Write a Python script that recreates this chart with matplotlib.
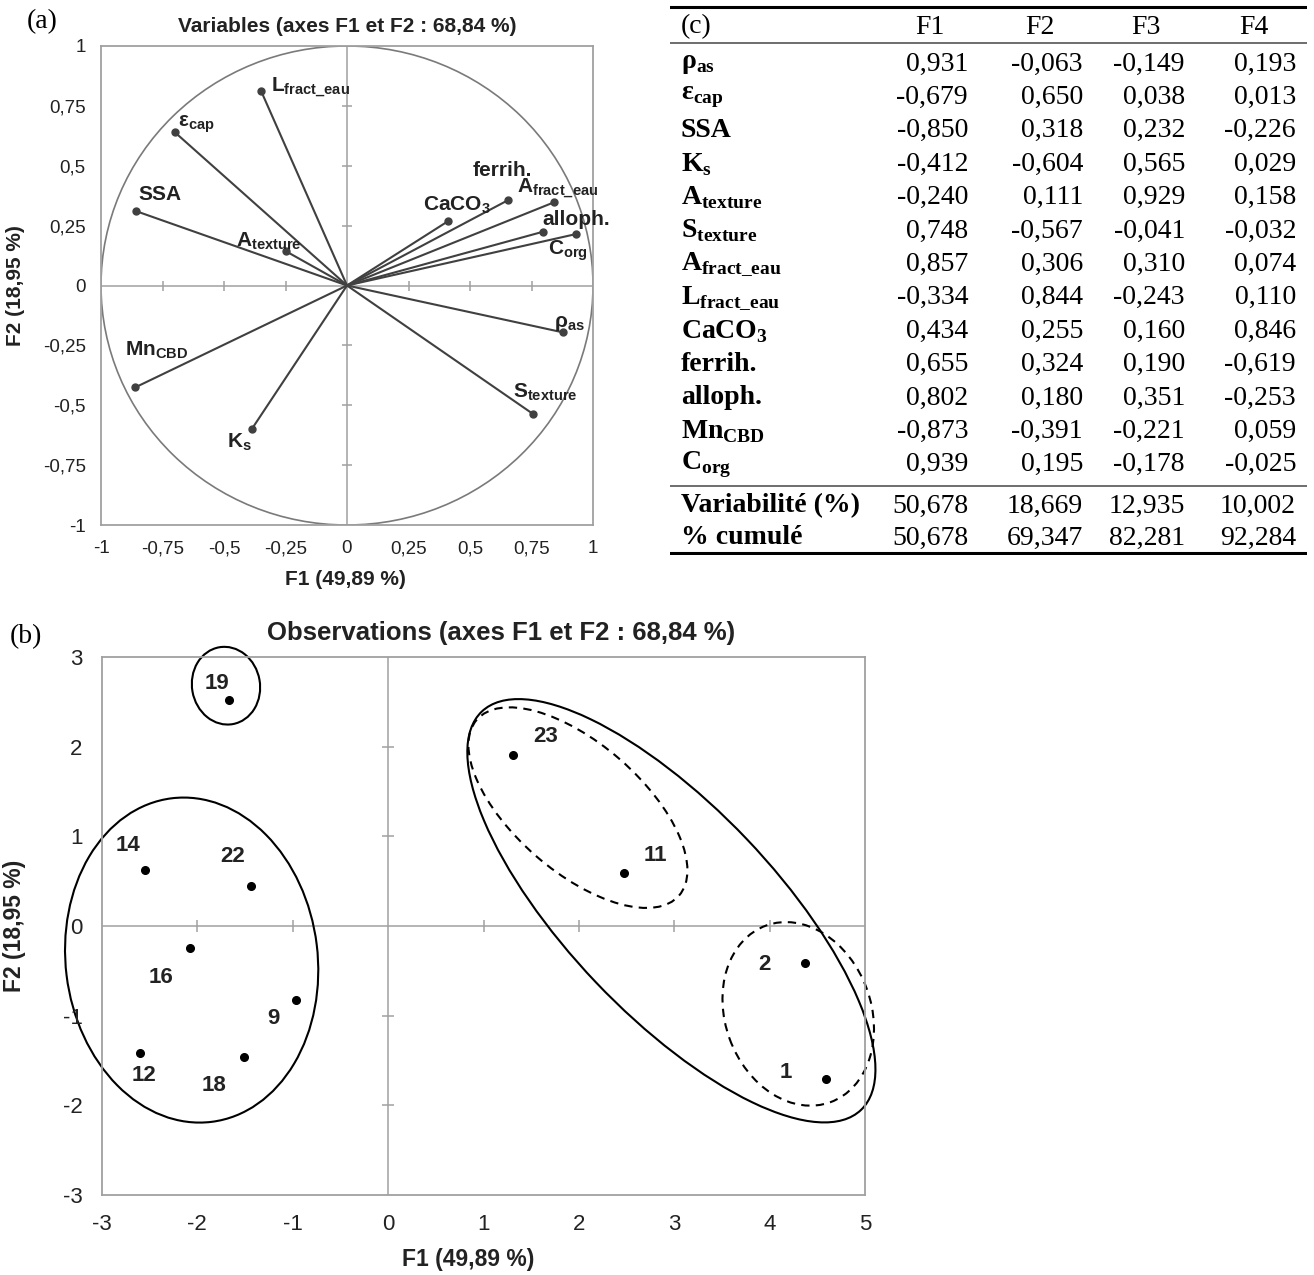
import numpy as np
import matplotlib
matplotlib.use("Agg")
import matplotlib.pyplot as plt
from matplotlib.patches import Circle, Ellipse
from matplotlib.transforms import ScaledTranslation
from matplotlib.ticker import FuncFormatter

plt.rcParams['axes.unicode_minus'] = False
SANS = 'Liberation Sans'
SERIF = 'Liberation Serif'

# ---- (a) correlation circle: variable coordinates on F1 / F2
var_labels = [r'ρ$_{\mathregular{as}}$', r'ε$_{\mathregular{cap}}$', 'SSA', r'K$_{\mathregular{s}}$',
              r'A$_{\mathregular{texture}}$', r'S$_{\mathregular{texture}}$',
              r'A$_{\mathregular{fract\_eau}}$', r'L$_{\mathregular{fract\_eau}}$',
              r'CaCO$_{\mathregular{3}}$', 'ferrih.', 'alloph.', r'Mn$_{\mathregular{CBD}}$',
              r'C$_{\mathregular{org}}$']
var_f1 = [0.879, -0.700, -0.856, -0.388, -0.250, 0.757, 0.843, -0.350, 0.410, 0.656, 0.795, -0.860, 0.932]
var_f2 = [-0.196, 0.640, 0.310, -0.601, 0.144, -0.537, 0.348, 0.814, 0.268, 0.357, 0.224, -0.425, 0.215]
# label offsets in pixels (left edge, vertical centre) relative to the point
var_lab_off = [(-9, 9), (3, 8), (2, 17), (-25, -13), (-49, 10), (-20, 22), (-37, 13),
               (10, 3), (-25, 16), (-36, 29), (0, 12), (-10, 37), (-28, -17)]
circle_ticks = [-1, -0.75, -0.5, -0.25, 0, 0.25, 0.5, 0.75, 1]

# ---- (b) observations on F1 / F2
obs_ids = ['19', '23', '11', '14', '22', '16', '9', '12', '18', '2', '1']
obs_f1 = [-1.67, 1.31, 2.47, -2.55, -1.44, -2.08, -0.97, -2.60, -1.51, 4.37, 4.59]
obs_f2 = [2.52, 1.91, 0.59, 0.62, 0.45, -0.24, -0.82, -1.42, -1.46, -0.41, -1.71]
obs_lab_off = [(-12, 17), (33, 18), (32, 18), (-17, 25), (-18, 29), (-29, -30),
               (-22, -19), (4, -22), (-30, -29), (-40, -2), (-40, 7)]
obs_xticks = [-3, -2, -1, 0, 1, 2, 3, 4, 5]
obs_yticks = [-3, -2, -1, 0, 1, 2, 3]
# groups drawn as ellipses: centre (data), width/height (px), angle (deg), style
groups = [(-1.70, 2.68, 78, 68, 100, '-'),
          (-2.06, -0.38, 326, 252, 97, '-'),
          (2.97, 0.17, 550, 208, -46.4, '-'),
          (1.99, 1.32, 268, 128, -41, (0, (4, 3))),
          (4.30, -0.98, 188, 146, -70, (0, (4, 3)))]

# ---- (c) table of loadings
tab_f1 = [0.931, -0.679, -0.850, -0.412, -0.240, 0.748, 0.857, -0.334, 0.434, 0.655, 0.802, -0.873, 0.939]
tab_f2 = [-0.063, 0.650, 0.318, -0.604, 0.111, -0.567, 0.306, 0.844, 0.255, 0.324, 0.180, -0.391, 0.195]
tab_f3 = [-0.149, 0.038, 0.232, 0.565, 0.929, -0.041, 0.310, -0.243, 0.160, 0.190, 0.351, -0.221, -0.178]
tab_f4 = [0.193, 0.013, -0.226, 0.029, 0.158, -0.032, 0.074, 0.110, 0.846, -0.619, -0.253, 0.059, -0.025]
variab = [50.678, 18.669, 12.935, 10.002]
cumul = [50.678, 69.347, 82.281, 92.284]


def comma(v, fmt='{:g}'):
    return fmt.format(v).replace('.', ',')


W, H = 1314, 1275
fig = plt.figure(figsize=(W / 100, H / 100), dpi=100)


def px_axes(left, top, right, bottom):
    return fig.add_axes([left / W, 1 - bottom / H, (right - left) / W, (bottom - top) / H])


def frame(ax, ticks_x, ticks_y, tsize, tlen):
    for s in ax.spines.values():
        s.set_color('#a0a0a0')
        s.set_linewidth(1.3)
    ax.axhline(0, color='#a0a0a0', lw=1.1, zorder=1)
    ax.axvline(0, color='#a0a0a0', lw=1.1, zorder=1)
    tx = [t for t in ticks_x if t not in (0, ticks_x[0], ticks_x[-1])]
    ty = [t for t in ticks_y if t not in (0, ticks_y[0], ticks_y[-1])]
    ax.plot(tx, [0] * len(tx), ls='none', marker='|', ms=tlen, mew=1.1, color='#a0a0a0')
    ax.plot([0] * len(ty), ty, ls='none', marker='_', ms=tlen, mew=1.1, color='#a0a0a0')
    ax.set_xticks(ticks_x)
    ax.set_yticks(ticks_y)
    ax.xaxis.set_major_formatter(FuncFormatter(lambda v, p: comma(v)))
    ax.yaxis.set_major_formatter(FuncFormatter(lambda v, p: comma(v)))
    ax.tick_params(length=0, labelsize=tsize, colors='#222222', pad=11)
    for lab in ax.get_xticklabels() + ax.get_yticklabels():
        lab.set_family(SANS)


# ---------------- panel (a)
ax = px_axes(101, 46, 593, 525)
ax.set_xlim(-1, 1)
ax.set_ylim(-1, 1)
frame(ax, circle_ticks, circle_ticks, 13.5, 7)
ax.add_patch(Circle((0, 0), 1, fill=False, ec='#7a7a7a', lw=1.2))
for x, y in zip(var_f1, var_f2):
    ax.plot([0, x], [0, y], color='#404040', lw=1.5)
ax.plot(var_f1, var_f2, ls='none', marker='o', ms=5, color='#404040')
for lab, x, y, (dx, dy) in zip(var_labels, var_f1, var_f2, var_lab_off):
    ax.annotate(lab, (x, y), xytext=(dx * 0.72, dy * 0.72), textcoords='offset points',
                ha='left', va='center', fontsize=15, fontweight='bold', family=SANS,
                color='#222222', annotation_clip=False)
ax.set_title('Variables (axes F1 et F2 : 68,84 %)', fontsize=15, fontweight='bold',
             family=SANS, color='#222222', pad=10)
ax.set_xlabel('F1 (49,89 %)', fontsize=15, fontweight='bold', family=SANS, color='#222222')
ax.set_ylabel('F2 (18,95 %)', fontsize=15, fontweight='bold', family=SANS, color='#222222')
ax.xaxis.set_label_coords(0.496, -0.094)
ax.yaxis.set_label_coords(-0.155, 0.5)
fig.text(27 / W, 1 - 22 / H, '(a)', family=SERIF, fontsize=20, va='center', ha='left')

# ---------------- panel (b)
bx = px_axes(102, 657, 865, 1195)
bx.set_xlim(-3, 5)
bx.set_ylim(-3, 3)
frame(bx, obs_xticks, obs_yticks, 16, 8)
bx.plot(obs_f1, obs_f2, ls='none', marker='o', ms=5.5, color='black')
for lab, x, y, (dx, dy) in zip(obs_ids, obs_f1, obs_f2, obs_lab_off):
    bx.annotate(lab, (x, y), xytext=(dx * 0.72, dy * 0.72), textcoords='offset points',
                ha='center', va='center', fontsize=16, fontweight='bold', family=SANS,
                color='#222222')
for cx, cy, w, h, ang, ls in groups:
    tr = fig.dpi_scale_trans + ScaledTranslation(cx, cy, bx.transData)
    bx.add_patch(Ellipse((0, 0), w / 100, h / 100, angle=ang, transform=tr, fill=False,
                         ec='black', lw=1.5, ls=ls, clip_on=False))
bx.set_title('Observations (axes F1 et F2 : 68,84 %)', fontsize=18.5, fontweight='bold',
             family=SANS, color='#222222', x=0.523, pad=12)
bx.set_xlabel('F1 (49,89 %)', fontsize=16.5, fontweight='bold', family=SANS, color='#222222')
bx.set_ylabel('F2 (18,95 %)', fontsize=16.5, fontweight='bold', family=SANS, color='#222222')
bx.xaxis.set_label_coords(0.48, -0.0985)
bx.yaxis.set_label_coords(-0.1, 0.5)
bx.tick_params(pad=14)
fig.text(10 / W, 1 - 637 / H, '(b)', family=SERIF, fontsize=20, va='center', ha='left')

# ---------------- panel (c) table
cx_ = px_axes(670, 5, 1307, 555)
cx_.set_xlim(670, 1307)
cx_.set_ylim(555, 5)
cx_.axis('off')
cx_.axhline(7, color='black', lw=2.2)
cx_.axhline(43, color='#555555', lw=1.2)
cx_.axhline(486, color='#555555', lw=1.2)
cx_.axhline(553, color='black', lw=2.2)
col_right = [968, 1083, 1185, 1296]
col_head = [930, 1040, 1146, 1254]
cx_.text(681, 27, '(c)', family=SERIF, fontsize=20, va='center', ha='left')
for i, xh in enumerate(col_head):
    cx_.text(xh, 27, 'F%d' % (i + 1), family=SERIF, fontsize=20, va='center', ha='center')
cols = [tab_f1, tab_f2, tab_f3, tab_f4]
for r, lab in enumerate(var_labels):
    y = 64 + 33.4 * r
    cx_.text(681, y, lab, family=SERIF, fontsize=20, fontweight='bold', va='center', ha='left')
    for xr, col in zip(col_right, cols):
        cx_.text(xr, y, comma(col[r], '{:.3f}'), family=SERIF, fontsize=20, va='center', ha='right')
for y, lab, vals in [(506, 'Variabilité (%)', variab), (538, '% cumulé', cumul)]:
    cx_.text(681, y, lab, family=SERIF, fontsize=20, fontweight='bold', va='center', ha='left')
    for xr, v in zip(col_right, vals):
        cx_.text(xr, y, comma(v, '{:.3f}'), family=SERIF, fontsize=20, va='center', ha='right')

fig.savefig('out.png', dpi=100)
